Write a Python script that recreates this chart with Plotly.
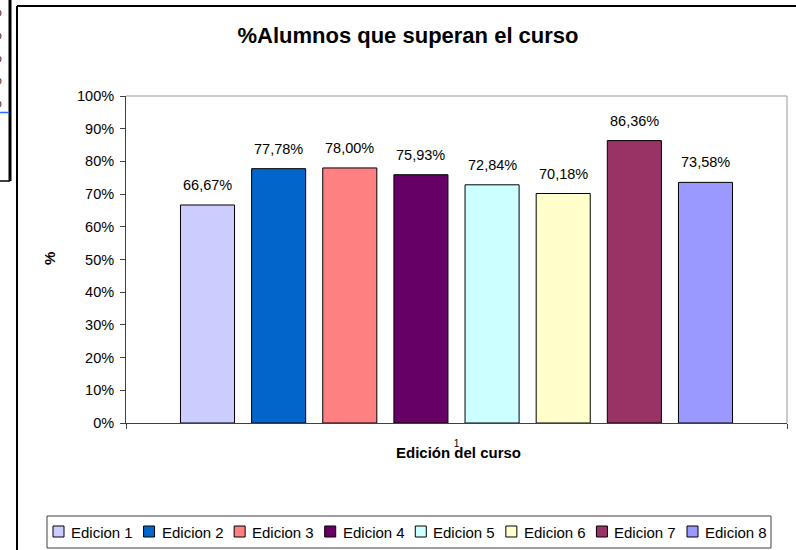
import plotly.graph_objects as go

# ---------------- data ----------------
series = ["Edicion 1", "Edicion 2", "Edicion 3", "Edicion 4",
          "Edicion 5", "Edicion 6", "Edicion 7", "Edicion 8"]
values = [66.67, 77.78, 78.00, 75.93, 72.84, 70.18, 86.36, 73.58]
colors = ["#CCCCFF", "#0066CC", "#FF8080", "#660066",
          "#CCFFFF", "#FFFFCC", "#993366", "#9999FF"]
category = ["1"]
y_ticks = [0, 10, 20, 30, 40, 50, 60, 70, 80, 90, 100]
y_tick_labels = [f"{t}%" for t in y_ticks]
title_text = "%Alumnos que superan el curso"
x_title = "Edición del curso"
y_title = "%"

# ---------------- layout geometry ----------------
W, H = 796, 550
L, R, T, B = 126, 9, 96, 127
PW = W - L - R
PH = H - T - B
FONT = "Liberation Sans, Arial, sans-serif"
BARGAP = 0.139
GROUPGAP = 0.24


def px(x):
    return (x - L) / PW


def py(y):
    return (H - B - y) / PH


fig = go.Figure()
for name, v, c in zip(series, values, colors):
    fig.add_trace(go.Bar(
        x=category, y=[v], name=name,
        marker=dict(color=c, line=dict(color="black", width=1)),
        showlegend=False,
        hovertemplate=name + ": %{y:.2f}%<extra></extra>",
    ))

annotations = []
shapes = []

# data labels above bars (x given as category index)
n = len(series)
slot = PW * (1 - BARGAP) / n
cat_index = 0
for i, v in enumerate(values):
    annotations.append(dict(
        x=cat_index, y=v, xref="x", yref="y",
        xshift=(i - (n - 1) / 2) * slot, yshift=20,
        text=f"{v:.2f}%".replace(".", ","), showarrow=False,
        font=dict(family=FONT, size=14.5, color="black"),
        xanchor="center", yanchor="middle",
    ))

# axis titles
annotations.append(dict(
    x=px(49), y=py(259), xref="paper", yref="paper",
    text=f"<b>{y_title}</b>", textangle=-90, showarrow=False,
    font=dict(family=FONT, size=15, color="black"),
    xanchor="center", yanchor="middle",
))
annotations.append(dict(
    x=px(458), y=py(453), xref="paper", yref="paper",
    text=f"<b>{x_title}</b>", showarrow=False,
    font=dict(family=FONT, size=15, color="black"),
    xanchor="center", yanchor="middle",
))

# custom legend
leg_x0, leg_pitch = 53, (687 - 53) / 7
for i, (name, c) in enumerate(zip(series, colors)):
    sx = leg_x0 + i * leg_pitch
    shapes.append(dict(type="rect", xref="paper", yref="paper",
                       x0=px(sx), x1=px(sx + 11), y0=py(537), y1=py(526),
                       fillcolor=c, line=dict(color="black", width=1)))
    annotations.append(dict(
        x=px(sx + 16), y=py(532), xref="paper", yref="paper",
        text=name, showarrow=False, xanchor="left", yanchor="middle",
        font=dict(family=FONT, size=15, color="black"),
    ))
shapes.append(dict(type="rect", xref="paper", yref="paper",
                   x0=px(47), x1=px(771), y0=py(548), y1=py(516),
                   line=dict(color="#404040", width=1), fillcolor="rgba(0,0,0,0)"))

# plot area frame (top/right gray)
shapes.append(dict(type="line", xref="paper", yref="paper", x0=0, x1=1, y0=1, y1=1,
                   line=dict(color="#999999", width=1), layer="below"))
shapes.append(dict(type="line", xref="paper", yref="paper", x0=1, x1=1, y0=0, y1=1,
                   line=dict(color="#999999", width=1), layer="below"))

# outer chart border (left and top)
shapes.append(dict(type="line", xref="paper", yref="paper",
                   x0=px(17), x1=px(17), y0=py(6), y1=py(560),
                   line=dict(color="black", width=2)))
shapes.append(dict(type="line", xref="paper", yref="paper",
                   x0=px(17), x1=px(800), y0=py(6), y1=py(6),
                   line=dict(color="black", width=2)))

# spreadsheet fragments at far left
shapes.append(dict(type="line", xref="paper", yref="paper",
                   x0=px(10), x1=px(10), y0=py(-2), y1=py(181),
                   line=dict(color="black", width=3)))
shapes.append(dict(type="line", xref="paper", yref="paper",
                   x0=px(-2), x1=px(10), y0=py(181), y1=py(181),
                   line=dict(color="black", width=1.5)))
shapes.append(dict(type="line", xref="paper", yref="paper",
                   x0=px(-2), x1=px(9), y0=py(112.5), y1=py(112.5),
                   line=dict(color="#3366FF", width=1.5)))
for yy in [12, 35, 58, 80, 103]:
    annotations.append(dict(
        x=px(4), y=py(yy), xref="paper", yref="paper", text="%",
        showarrow=False, xanchor="right", yanchor="middle",
        font=dict(family=FONT, size=12, color="black"),
    ))

fig.update_layout(
    width=W, height=H,
    margin=dict(l=L, r=R, t=T, b=B, autoexpand=False),
    paper_bgcolor="white", plot_bgcolor="white",
    barmode="group", bargap=BARGAP, bargroupgap=GROUPGAP,
    showlegend=False,
    title=dict(text=f"<b>{title_text}</b>", x=408 / W, y=1 - 35 / H,
               xref="container", yref="container",
               xanchor="center", yanchor="middle",
               font=dict(family=FONT, size=22, color="black")),
    font=dict(family=FONT, color="black"),
    annotations=annotations,
    shapes=shapes,
)

fig.update_xaxes(
    type="category", range=[-0.5, 0.5],
    tickson="boundaries", ticks="outside", ticklen=5, tickcolor="#404040",
    tickfont=dict(family=FONT, size=10, color="black"),
    ticklabelstandoff=11,
    showline=True, linecolor="#404040", linewidth=1,
    showgrid=False, zeroline=False,
)
fig.update_yaxes(
    range=[0, 100], tickvals=y_ticks, ticktext=y_tick_labels,
    ticks="outside", ticklen=5, tickcolor="#404040",
    tickfont=dict(family=FONT, size=14.5, color="black"),
    ticklabelstandoff=3,
    showline=True, linecolor="#404040", linewidth=1,
    showgrid=False, zeroline=False,
)

fig.write_html(
    "out.html",
    config={"displayModeBar": False},
    post_script="document.body.style.margin='0';document.body.style.overflow='hidden';",
)
